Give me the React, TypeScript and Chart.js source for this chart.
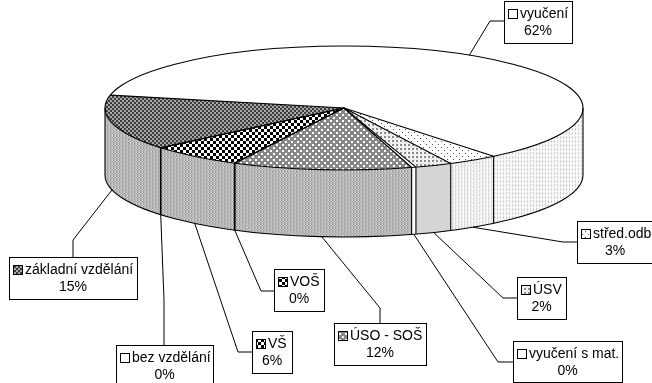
import React, { useEffect, useRef } from "react";
import { Chart, registerables } from "chart.js";

Chart.register(...registerables);

const categories = ["vyučení", "střed.odb", "ÚSV", "vyučení s mat.", "ÚSO - SOŠ", "VOŠ", "VŠ", "bez vzdělání", "základní vzdělání"];
const shares = [60.9, 3.4, 2.5, 0.3, 12.1, 0.05, 6.3, 0.05, 14.4];
const percentLabels = ["62%", "3%", "2%", "0%", "12%", "0%", "6%", "0%", "15%"];

// Callout layout: x, y, w, h of the box, elbow of the leader, point on the box
const callouts = [
  { x: 504, y: 1, w: 68, h: 42, elbow: [490, 21], end: [504, 21] },
  { x: 577, y: 221, w: 76, h: 42, elbow: [563, 242], end: [577, 242] },
  { x: 517, y: 277, w: 49, h: 42, elbow: [503, 298], end: [517, 298] },
  { x: 513, y: 341, w: 109, h: 41, elbow: [498, 362], end: [513, 362] },
  { x: 334, y: 323, w: 92, h: 42, elbow: [380, 308], end: [380, 323] },
  { x: 274, y: 269, w: 50, h: 42, elbow: [261, 291], end: [274, 291] },
  { x: 252, y: 331, w: 40, h: 42, elbow: [238, 352], end: [252, 352] },
  { x: 116, y: 345, w: 97, h: 44, elbow: [164, 300], end: [164, 345] },
  { x: 9, y: 257, w: 128, h: 42, elbow: [73, 240], end: [73, 257] },
];

const CX = 344, CY = 108, RX = 239, RY = 62, DEPTH = 67;

const palette: Record<string, string> = {
  ".": "#ffffff", "#": "#000000", d: "#3c3c3c", l: "#a8a8a8", g: "#888888", k: "#555555",
  u: "#8c8c8c", e: "#eeeeee", a: "#b8b8b8", b: "#9c9c9c", c: "#cfcfcf", m: "#dcdcdc", n: "#c8c8c8", p: "#f2f2f2", q: "#d8d8d8",
};

const topTiles = [
  ["."],
  ["k.....", "......", "......", "...k..", "......", "......"],
  ["uue.", "uue.", "eeee", "eeee"],
  ["...."],
  ["..gggg", "..gggg", "gggggg", "ggg..g", "ggg..g", "gggggg"],
  ["###...", "###...", "###...", "...###", "...###", "...###"],
  ["###...", "###...", "###...", "...###", "...###", "...###"],
  ["."],
  ["ddll", "ddll", "lldd", "lldd"],
];

const greyWall = ["acb", "abc", "acb", "acb"];
const wallTiles = [
  ["p.q", ".pn", "p.q", ".p."],
  ["p.q", "q.p", "p.n", ".pq"],
  ["mc", "cm"],
  ["."],
  greyWall, greyWall, greyWall, greyWall, greyWall,
];

function makePattern(ctx: CanvasRenderingContext2D, tile: string[]) {
  const off = document.createElement("canvas");
  off.width = tile[0].length;
  off.height = tile.length;
  const c = off.getContext("2d")!;
  tile.forEach((row, y) => {
    row.split("").forEach((ch, x) => {
      c.fillStyle = palette[ch];
      c.fillRect(x, y, 1, 1);
    });
  });
  return ctx.createPattern(off, "repeat")!;
}

const px = (v: number) => Math.round(v) + 0.5;

export default function App() {
  const ref = useRef<HTMLCanvasElement>(null);
  useEffect(() => {
    const canvas = ref.current!;
    const ctx = canvas.getContext("2d")!;
    const topPatterns = topTiles.map((t) => makePattern(ctx, t));
    const wallPatterns = wallTiles.map((t) => makePattern(ctx, t));

    const pie3d = {
      id: "pie3d",
      beforeDatasetsDraw(chart: any) {
        const c: CanvasRenderingContext2D = chart.ctx;
        const arcs = chart.getDatasetMeta(0).data;
        // side walls, from the library's arc angles
        arcs.forEach((arc: any, i: number) => {
          for (let k = -1; k <= 2; k++) {
            const s = Math.max(arc.startAngle, 2 * Math.PI * k);
            const e = Math.min(arc.endAngle, 2 * Math.PI * k + Math.PI);
            if (e <= s) continue;
            c.beginPath();
            c.ellipse(CX, CY, RX, RY, 0, s, e);
            c.ellipse(CX, CY + DEPTH, RX, RY, 0, e, s, true);
            c.closePath();
            c.fillStyle = wallPatterns[i];
            c.fill();
          }
        });
        // squash the flat pie of the library into the top ellipse
        const a = arcs[0];
        const R = a.outerRadius;
        c.save();
        c.translate(CX, CY);
        c.scale(RX / R, RY / R);
        c.translate(-a.x, -a.y);
        const inv = c.getTransform().inverse();
        topPatterns.forEach((p) => p.setTransform(inv));
      },
      afterDatasetsDraw(chart: any) {
        const c: CanvasRenderingContext2D = chart.ctx;
        c.restore();
        const arcs = chart.getDatasetMeta(0).data;
        c.strokeStyle = "#000";
        c.lineWidth = 1.1;
        // rims
        c.beginPath();
        c.ellipse(CX, CY, RX, RY, 0, 0, 2 * Math.PI);
        c.stroke();
        c.beginPath();
        c.ellipse(CX, CY + DEPTH, RX, RY, 0, 0, Math.PI);
        c.stroke();
        c.beginPath();
        c.moveTo(CX + RX, CY);
        c.lineTo(CX + RX, CY + DEPTH);
        c.moveTo(CX - RX, CY);
        c.lineTo(CX - RX, CY + DEPTH);
        c.stroke();
        // slice edges and wall edges
        arcs.forEach((arc: any) => {
          const t = arc.startAngle;
          const x = CX + RX * Math.cos(t);
          const y = CY + RY * Math.sin(t);
          c.beginPath();
          c.moveTo(CX, CY);
          c.lineTo(x, y);
          if (Math.sin(t) > 0) {
            c.moveTo(x, y);
            c.lineTo(x, y + DEPTH);
          }
          c.stroke();
        });
        // callouts
        c.font = "14px 'Liberation Sans', Arial, sans-serif";
        c.textBaseline = "middle";
        arcs.forEach((arc: any, i: number) => {
          const b = callouts[i];
          const t = (arc.startAngle + arc.endAngle) / 2;
          const sx = CX + RX * Math.cos(t);
          const sy = CY + RY * Math.sin(t) + (Math.sin(t) > 0 ? DEPTH : 0);
          c.strokeStyle = "#000";
          c.lineWidth = 1;
          c.beginPath();
          c.moveTo(sx, sy);
          c.lineTo(b.elbow[0], b.elbow[1]);
          c.lineTo(b.end[0], b.end[1]);
          c.stroke();
          c.fillStyle = "#fff";
          c.fillRect(b.x, b.y, b.w, b.h);
          c.strokeRect(px(b.x), px(b.y), b.w, b.h);
          const keyX = px(b.x + 4), keyY = px(b.y + 8);
          c.fillStyle = topPatterns[i];
          topPatterns[i].setTransform(new DOMMatrix());
          c.fillRect(keyX, keyY, 9, 9);
          c.strokeRect(keyX, keyY, 9, 9);
          c.fillStyle = "#000";
          c.textAlign = "left";
          c.fillText(categories[i], b.x + 16, b.y + 13);
          c.textAlign = "center";
          c.fillText(percentLabels[i], b.x + b.w / 2, b.y + 30);
        });
      },
    };

    const chart = new Chart(canvas, {
      type: "pie",
      data: {
        labels: categories,
        datasets: [{
          data: shares,
          backgroundColor: topPatterns as any,
          borderWidth: 0,
          clip: false as any,
        }],
      },
      options: {
        responsive: false,
        animation: false,
        rotation: 282,
        layout: { padding: 0 },
        events: [],
        plugins: { legend: { display: false }, tooltip: { enabled: false } },
      },
      plugins: [pie3d as any],
    });
    return () => chart.destroy();
  }, []);
  return (
    <div style={{ position: "absolute", left: 0, top: 0, width: 652, height: 383, background: "#fff", overflow: "hidden" }}>
      <canvas ref={ref} width={652} height={383} style={{ display: "block" }} />
    </div>
  );
}
